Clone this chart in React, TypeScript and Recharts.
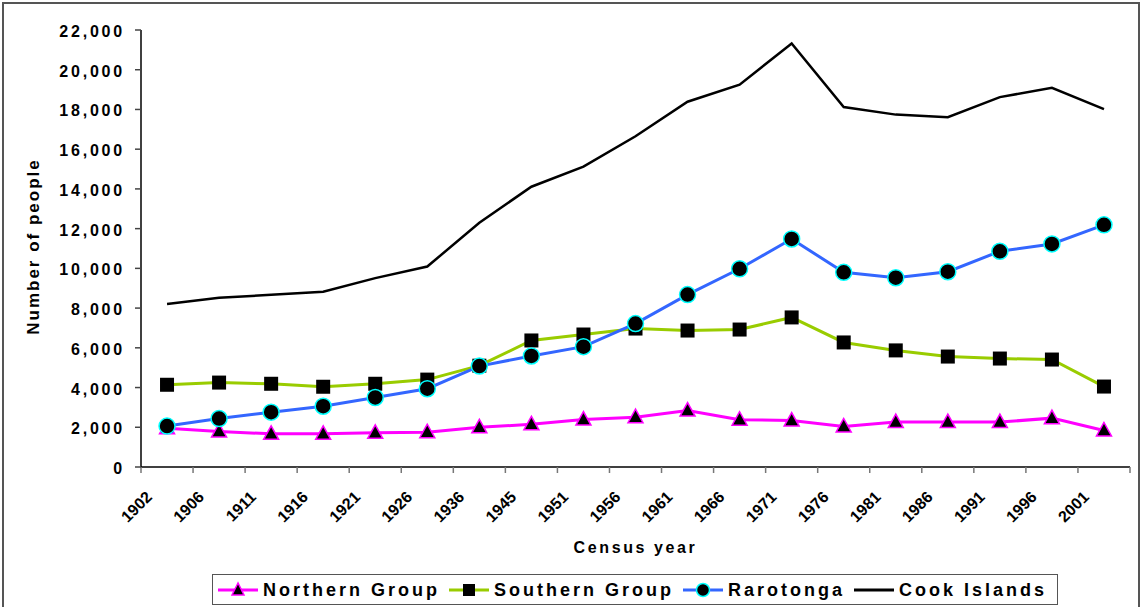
import React from 'react';
import { LineChart, Line, XAxis, YAxis, Legend } from 'recharts';

const years = ['1902', '1906', '1911', '1916', '1921', '1926', '1936', '1945', '1951', '1956', '1961', '1966', '1971', '1976', '1981', '1986', '1991', '1996', '2001'];
const northernGroup = [1950, 1790, 1670, 1670, 1720, 1750, 2000, 2150, 2390, 2510, 2840, 2380, 2340, 2040, 2260, 2260, 2260, 2460, 1840];
const southernGroup = [4140, 4250, 4190, 4040, 4190, 4400, 5100, 6370, 6670, 6970, 6870, 6920, 7530, 6270, 5870, 5560, 5460, 5410, 4050];
const rarotonga = [2060, 2440, 2760, 3060, 3500, 3940, 5080, 5590, 6060, 7220, 8680, 9980, 11480, 9800, 9530, 9830, 10860, 11230, 12190];
const cookIslands = [8210, 8520, 8670, 8820, 9510, 10090, 12300, 14110, 15120, 16650, 18390, 19250, 21320, 18120, 17740, 17610, 18620, 19090, 18020];
const yTicks = [0, 2000, 4000, 6000, 8000, 10000, 12000, 14000, 16000, 18000, 20000, 22000];

const FONT = '"Liberation Sans", Arial, Helvetica, sans-serif';

// each census sits in the middle of its category band; labels sit on band edges
const data = years.map((year, i) => ({
  pos: i + 0.5,
  year,
  northern: northernGroup[i],
  southern: southernGroup[i],
  rarotonga: rarotonga[i],
  cook: cookIslands[i],
}));
const xTicks = years.map((_, i) => i).concat([years.length]);

const fmt = (v: number) => v.toLocaleString('en-US');

const TriangleDot = (props: any) => {
  const { cx, cy } = props;
  if (cx == null || cy == null) return null;
  return (
    <polygon
      points={`${cx},${cy - 8} ${cx - 7.5},${cy + 5.5} ${cx + 7.5},${cy + 5.5}`}
      fill="#000"
      stroke="#FF00FF"
      strokeWidth={1.5}
    />
  );
};
const SquareDot = (props: any) => {
  const { cx, cy } = props;
  if (cx == null || cy == null) return null;
  return <rect x={cx - 7} y={cy - 7} width={14} height={14} fill="#000" />;
};
const CircleDot = (props: any) => {
  const { cx, cy } = props;
  if (cx == null || cy == null) return null;
  return <circle cx={cx} cy={cy} r={8} fill="#000" stroke="#00FFFF" strokeWidth={1.5} />;
};

const XTick = (props: any) => {
  const { x, y, payload } = props;
  const label = years[payload.value] ?? '';
  if (!label) return null;
  const ax = x + 12;
  const ay = y + 23;
  return (
    <text
      x={ax}
      y={ay}
      transform={`rotate(-45, ${ax}, ${ay})`}
      textAnchor="end"
      fontFamily={FONT}
      fontSize={16}
      fontWeight="bold"
      fill="#000"
    >
      {label}
    </text>
  );
};

const YTick = (props: any) => {
  const { x, y, payload } = props;
  return (
    <text
      x={x}
      y={y + 7}
      textAnchor="end"
      fontFamily={FONT}
      fontSize={16}
      fontWeight="bold"
      letterSpacing={2.8}
      fill="#000"
    >
      {fmt(payload.value)}
    </text>
  );
};

const XTitle = (props: any) => {
  const vb = props.viewBox || {};
  return (
    <text
      x={vb.x + vb.width / 2}
      y={vb.y + 86}
      textAnchor="middle"
      fontFamily={FONT}
      fontSize={16}
      fontWeight="bold"
      letterSpacing={2.6}
      fill="#000"
    >
      Census year
    </text>
  );
};

const YTitle = (props: any) => {
  const vb = props.viewBox || {};
  const cx = vb.x + 33;
  const cy = vb.y + vb.height / 2 - 2;
  return (
    <text
      x={cx}
      y={cy}
      transform={`rotate(-90, ${cx}, ${cy})`}
      textAnchor="middle"
      dominantBaseline="central"
      fontFamily={FONT}
      fontSize={17}
      fontWeight="bold"
      letterSpacing={2}
      fill="#000"
    >
      Number of people
    </text>
  );
};

const legendItems = [
  { name: 'Northern Group', color: '#FF00FF', marker: 'triangle' },
  { name: 'Southern Group', color: '#99CC00', marker: 'square' },
  { name: 'Rarotonga', color: '#3366FF', marker: 'circle' },
  { name: 'Cook Islands', color: '#000000', marker: 'none' },
];

const LegendIcon = ({ color, marker }: { color: string; marker: string }) => (
  <svg width={40} height={20} style={{ display: 'block' }}>
    <line x1={0} y1={10} x2={40} y2={10} stroke={color} strokeWidth={3} />
    {marker === 'triangle' && (
      <polygon points="20,3 14,15 26,15" fill="#000" stroke={color} strokeWidth={1.5} />
    )}
    {marker === 'square' && <rect x={14} y={4} width={12} height={12} fill="#000" />}
    {marker === 'circle' && <circle cx={20} cy={10} r={6.5} fill="#000" stroke="#00FFFF" strokeWidth={1.5} />}
  </svg>
);

const LegendContent = () => (
  <div
    style={{
      boxSizing: 'border-box',
      width: 846,
      height: 31,
      border: '1.5px solid #555',
      display: 'flex',
      alignItems: 'center',
      paddingLeft: 5,
      fontFamily: FONT,
      fontSize: 18,
      fontWeight: 'bold',
      letterSpacing: 3,
      color: '#000',
      background: '#fff',
    }}
  >
    {legendItems.map((it) => (
      <div key={it.name} style={{ display: 'flex', alignItems: 'center', marginRight: 9 }}>
        <LegendIcon color={it.color} marker={it.marker} />
        <span style={{ marginLeft: 5, lineHeight: '20px' }}>{it.name}</span>
      </div>
    ))}
  </div>
);

export default function App() {
  return (
    <div style={{ position: 'absolute', left: 0, top: 0, width: 1142, height: 607, background: '#fff', overflow: 'hidden' }}>
      <LineChart
        width={1142}
        height={607}
        data={data}
        margin={{ top: 30, right: 12, bottom: 0, left: 0 }}
      >
        <XAxis
          dataKey="pos"
          type="number"
          domain={[0, years.length]}
          ticks={xTicks}
          interval={0}
          height={140}
          stroke="#000"
          strokeWidth={1.5}
          tickLine={{ stroke: '#777', strokeWidth: 1.5 }}
          tickSize={6}
          tick={<XTick />}
          label={XTitle}
          allowDecimals={false}
        />
        <YAxis
          domain={[0, 22000]}
          ticks={yTicks}
          interval={0}
          width={141}
          stroke="#000"
          strokeWidth={1.5}
          tickLine={{ stroke: '#444', strokeWidth: 1.5 }}
          tickSize={6}
          tickMargin={10}
          tick={<YTick />}
          label={YTitle}
        />
        <Legend
          layout="horizontal"
          verticalAlign="middle"
          align="center"
          content={<LegendContent />}
          wrapperStyle={{ left: 212, top: 574, width: 846, height: 31 }}
        />
        <Line
          name="Northern Group"
          dataKey="northern"
          stroke="#FF00FF"
          strokeWidth={3}
          dot={<TriangleDot />}
          activeDot={false}
          isAnimationActive={false}
        />
        <Line
          name="Southern Group"
          dataKey="southern"
          stroke="#99CC00"
          strokeWidth={3}
          dot={<SquareDot />}
          activeDot={false}
          isAnimationActive={false}
        />
        <Line
          name="Rarotonga"
          dataKey="rarotonga"
          stroke="#3366FF"
          strokeWidth={3}
          dot={<CircleDot />}
          activeDot={false}
          isAnimationActive={false}
        />
        <Line
          name="Cook Islands"
          dataKey="cook"
          stroke="#000000"
          strokeWidth={2.5}
          dot={false}
          activeDot={false}
          isAnimationActive={false}
        />
      </LineChart>
      <div
        style={{
          position: 'absolute',
          left: 2,
          top: 2,
          width: 1138,
          height: 620,
          boxSizing: 'border-box',
          border: '2px solid #555',
          pointerEvents: 'none',
        }}
      />
    </div>
  );
}
